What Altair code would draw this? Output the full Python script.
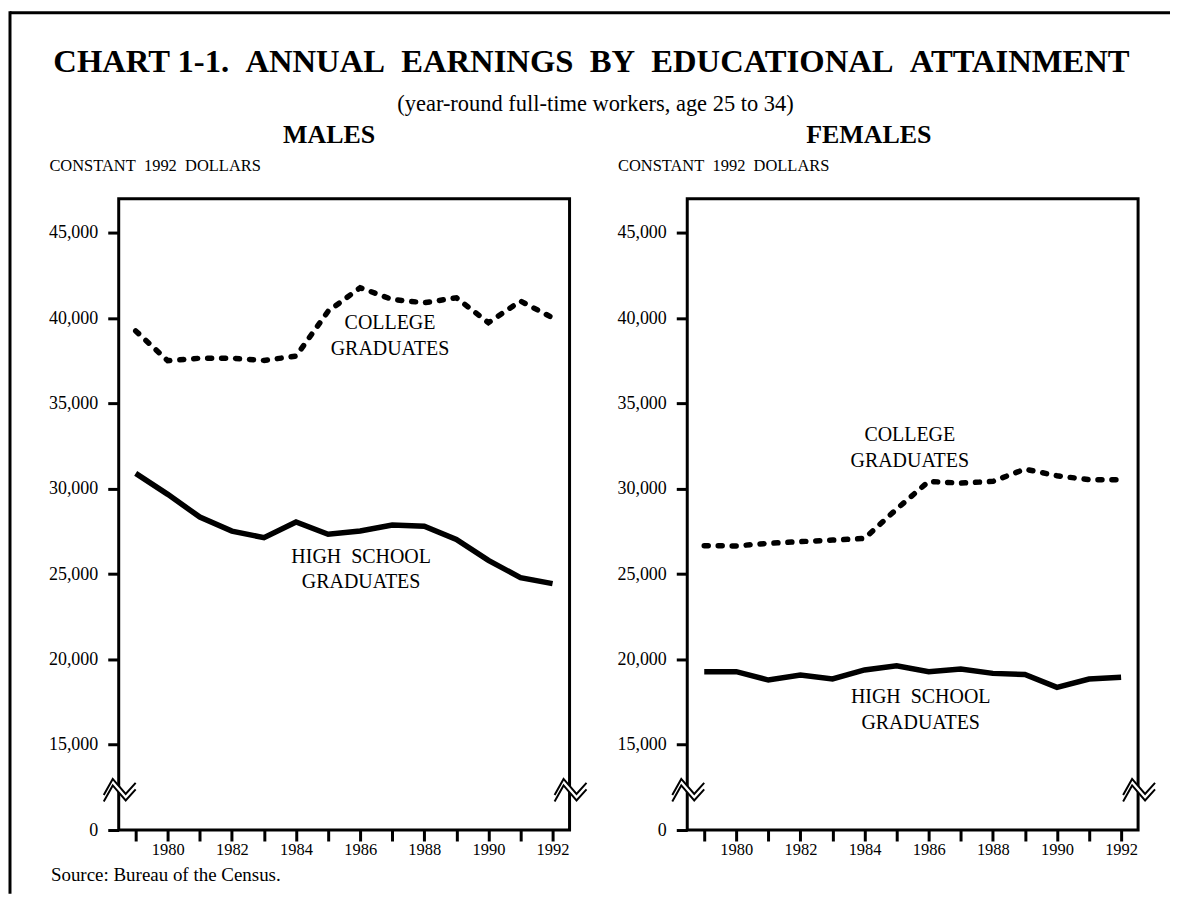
import altair as alt
import pandas as pd

# ---------------- data ----------------
years = list(range(1979, 1993))
male_college = [39250, 37500, 37650, 37650, 37520, 37770, 40400, 41780, 41090, 40900, 41190, 39730, 41000, 40020]
male_hs = [30900, 29670, 28340, 27520, 27130, 28050, 27330, 27520, 27870, 27800, 27030, 25800, 24790, 24440]
female_college = [26660, 26650, 26800, 26900, 26990, 27090, 28810, 30430, 30330, 30430, 31150, 30760, 30530, 30530]
female_hs = [19280, 19280, 18790, 19080, 18850, 19380, 19630, 19280, 19440, 19180, 19110, 18360, 18850, 18950]

y_tick_values = [10000, 15000, 20000, 25000, 30000, 35000, 40000, 45000]
x_tick_values = years

title_text = "CHART 1-1.\u00a0\u00a0ANNUAL\u00a0\u00a0EARNINGS\u00a0\u00a0BY\u00a0\u00a0EDUCATIONAL\u00a0\u00a0ATTAINMENT"
subtitle_text = "(year-round full-time workers, age 25 to 34)"
unit_text = "CONSTANT\u00a0\u00a01992\u00a0\u00a0DOLLARS"
source_text = "Source: Bureau of the Census."
college_label = ["COLLEGE", "GRADUATES"]
hs_label = ["HIGH\u00a0\u00a0SCHOOL", "GRADUATES"]

# annotation anchor positions (year, value) for each label line
male_college_pos = [(1986.93, 39730), (1986.93, 38200)]
male_hs_pos = [(1986.03, 26020), (1986.03, 24555)]
female_college_pos = [(1985.41, 33170), (1985.41, 31640)]
female_hs_pos = [(1985.75, 17820), (1985.75, 16300)]

# ---------------- layout constants ----------------
SERIF = "Liberation Serif"
W, H = 452, 633
XMIN, XMAX = 1978.47, 1992.53
YMIN, YMAX = 10000, 47000
BREAK_Y = 12350

x_axis = alt.Axis(values=x_tick_values,
                  labelExpr="datum.value % 2 == 0 ? '' + datum.value : ''",
                  tickSize=11, tickWidth=3, tickColor="black", domain=False, grid=False,
                  labelFont=SERIF, labelFontSize=16.5, labelColor="black", labelPadding=1,
                  labelFlush=False, labelOverlap=False)
y_axis = alt.Axis(values=y_tick_values,
                  labelExpr="datum.value == 10000 ? '0' : format(datum.value, ',')",
                  tickSize=11, tickWidth=3, tickColor="black", domain=False, grid=False,
                  labelFont=SERIF, labelFontSize=18, labelColor="black", labelPadding=10,
                  labelFlush=False, labelOverlap=False,
                  title=unit_text, titleAngle=0, titleAlign="left", titleBaseline="middle",
                  titleX=-70, titleY=-33, titleFont=SERIF, titleFontSize=16.5,
                  titleFontWeight="normal", titleColor="black")

xs = alt.X("year:Q", scale=alt.Scale(domain=[XMIN, XMAX], nice=False, zero=False), axis=x_axis, title=None)
ys = alt.Y("value:Q", scale=alt.Scale(domain=[YMIN, YMAX], nice=False, zero=False), axis=y_axis)

one = pd.DataFrame({"a": [0]})


def break_frame():
    """Axis-break zig-zags at both vertical edges of a panel (pixel offsets -> data units)."""
    px_per_year = W / (XMAX - XMIN)
    val_per_px = (YMAX - YMIN) / H
    shape = [(-15, 5), (-6, -11), (7, 4), (17, -7)]
    rows_black, rows_white = [], []
    for ei, xe in enumerate([XMIN, XMAX]):
        for off, target, name in [(0, rows_black, "u"), (6.5, rows_black, "l"), (3.25, rows_white, "m")]:
            for i, (dx, dy) in enumerate(shape):
                target.append({"year": xe + dx / px_per_year,
                               "value": BREAK_Y - (dy + off) * val_per_px,
                               "path": f"{ei}{name}", "o": i})
    return pd.DataFrame(rows_black), pd.DataFrame(rows_white)


def panel(college, hs, c_pos, h_pos, heading, heading_x, extra):
    dfc = pd.DataFrame({"year": years, "value": college})
    dfh = pd.DataFrame({"year": years, "value": hs})
    ann = pd.DataFrame({"year": [p[0] for p in c_pos + h_pos],
                        "value": [p[1] for p in c_pos + h_pos],
                        "text": college_label + hs_label})
    bb, bw = break_frame()

    box = alt.Chart(one).mark_rect(filled=False, stroke="black", strokeWidth=3).encode(
        x=alt.value(0), x2=alt.value(W), y=alt.value(0), y2=alt.value(H))
    c_line = alt.Chart(dfc).mark_line(color="black", strokeWidth=5.5, strokeDash=[4, 10],
                                      strokeCap="round").encode(x=xs, y=ys)
    h_line = alt.Chart(dfh).mark_line(color="black", strokeWidth=5.5).encode(x=xs, y=ys)
    labels = alt.Chart(ann).mark_text(font=SERIF, fontSize=20, color="black",
                                      align="center", baseline="middle").encode(x=xs, y=ys, text="text:N")
    brk_w = alt.Chart(bw).mark_line(color="white", strokeWidth=5).encode(
        x=xs, y=ys, detail="path:N", order="o:Q")
    brk_b = alt.Chart(bb).mark_line(color="black", strokeWidth=2).encode(
        x=xs, y=ys, detail="path:N", order="o:Q")
    head = alt.Chart(one).mark_text(text=heading, font=SERIF, fontSize=26, fontWeight="bold",
                                    color="black", align="center", baseline="alphabetic").encode(
        x=alt.value(heading_x), y=alt.value(-56))
    layers = [box, c_line, h_line, labels, brk_w, brk_b, head] + extra
    return alt.layer(*layers).properties(width=W, height=H)


left_extra = [
    alt.Chart(one).mark_text(text=title_text, font=SERIF, fontSize=32.7, fontWeight="bold", color="black",
                             align="center", baseline="alphabetic").encode(x=alt.value(474), y=alt.value(-127)),
    alt.Chart(one).mark_text(text=subtitle_text, font=SERIF, fontSize=22.5, color="black",
                             align="center", baseline="alphabetic").encode(x=alt.value(478), y=alt.value(-88)),
    alt.Chart(one).mark_text(text=source_text, font=SERIF, fontSize=19, color="black",
                             align="left", baseline="middle").encode(x=alt.value(-68), y=alt.value(678)),
    # outer frame (top and left edges)
    alt.Chart(one).mark_rule(color="black", strokeWidth=3).encode(
        x=alt.value(-109), x2=alt.value(1054), y=alt.value(-186.5)),
    alt.Chart(one).mark_rule(color="black", strokeWidth=3).encode(
        x=alt.value(-109), y=alt.value(-188), y2=alt.value(697)),
]

left = panel(male_college, male_hs, male_college_pos, male_hs_pos, "MALES", 211, left_extra)
right = panel(female_college, female_hs, female_college_pos, female_hs_pos, "FEMALES", 182, [])

chart = alt.hconcat(left, right, spacing=118, bounds="flush").properties(
    padding=0, background="white"
).configure(font=SERIF).configure_view(strokeWidth=0)

chart.save("out.html", embed_options={"renderer": "svg", "actions": False})
